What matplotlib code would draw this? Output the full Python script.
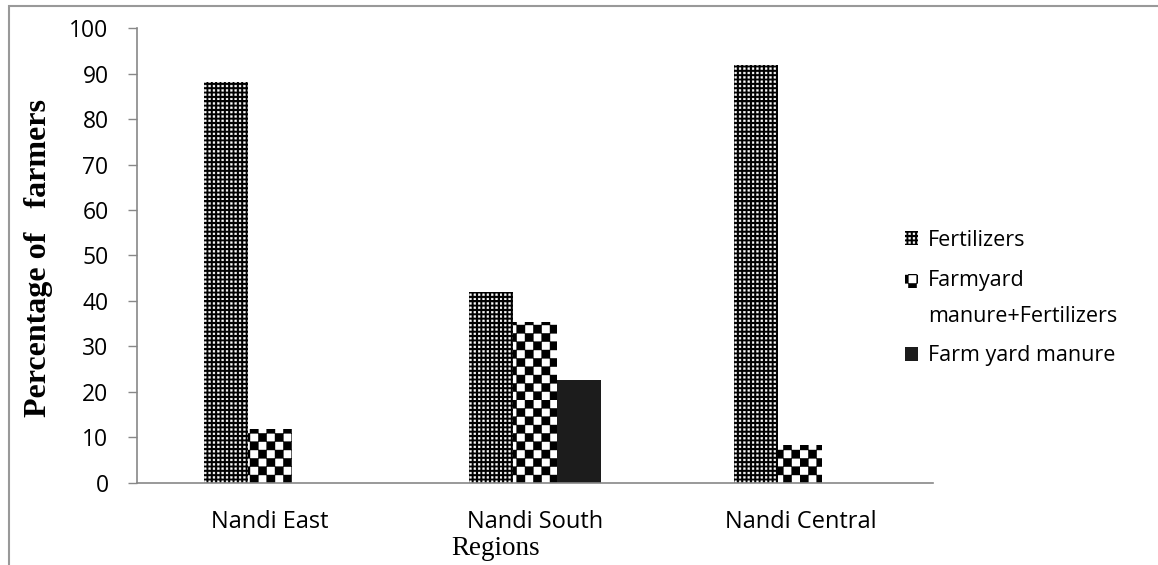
import warnings
import numpy as np
import matplotlib
matplotlib.use("Agg")
import matplotlib.pyplot as plt
import matplotlib.hatch as mhatch
from matplotlib.path import Path
from matplotlib.patches import Rectangle, Patch
from matplotlib.legend_handler import HandlerPatch

warnings.filterwarnings("ignore")

categories = ["Nandi East", "Nandi South", "Nandi Central"]
fertilizers = [88.1, 42.0, 91.9]
fym_fertilizers = [11.8, 35.4, 8.3]
farm_yard_manure = [0, 22.6, 0]
series_names = ["Fertilizers", "Farmyard\nmanure+Fertilizers", "Farm yard manure"]


# custom hatch: filled squares on a grid ('c' = checkerboard, 'd' = small dots)
class SquareGrid(mhatch.HatchPatternBase):
    def __init__(self, hatch, density):
        self.cells = []
        if hatch.count("c") > 0:
            self.n = 12
            self.cells = [(i, j) for i in range(self.n) for j in range(self.n) if (i + j) % 2 == 0]
            self.frac = 1.0
        elif hatch.count("d") > 0:
            self.n = 23
            self.cells = [(i, j) for i in range(self.n) for j in range(self.n)]
            self.frac = 0.42
        self.num_vertices = len(self.cells) * 5

    def set_vertices_and_codes(self, vertices, codes):
        step = 1.0 / self.n
        s = step * self.frac
        k = 0
        for i, j in self.cells:
            x0, y0 = i * step, j * step
            vertices[k:k + 5] = [(x0, y0), (x0 + s, y0), (x0 + s, y0 + s), (x0, y0 + s), (x0, y0)]
            codes[k:k + 5] = [Path.MOVETO, Path.LINETO, Path.LINETO, Path.LINETO, Path.CLOSEPOLY]
            k += 5


mhatch._hatch_types.append(SquareGrid)
plt.rcParams["hatch.linewidth"] = 0.3

fig = plt.figure(figsize=(11.58, 5.65), dpi=100)
ax = fig.add_axes([0.1183, 0.1457, 0.8057 - 0.1183, 0.9499 - 0.1457])

x = np.arange(len(categories))
w = 0.166
styles = [
    dict(color="black", edgecolor="white", hatch="d", linewidth=0),
    dict(color="white", edgecolor="black", hatch="c", linewidth=0),
    dict(color="#1c1c1c", edgecolor="#1c1c1c", linewidth=0),
]
for k, vals in enumerate([fertilizers, fym_fertilizers, farm_yard_manure]):
    ax.bar(x + (k - 1) * w, vals, w, **styles[k])

ax.set_xlim(-0.5, 2.5)
ax.set_ylim(0, 100)
ax.set_yticks(range(0, 101, 10))
ax.set_xticks(x)
ax.set_xticklabels(categories)

axis_col = "#888888"
for s in ["top", "right"]:
    ax.spines[s].set_visible(False)
for s in ["left", "bottom"]:
    ax.spines[s].set_color(axis_col)
    ax.spines[s].set_linewidth(1.2)
ax.tick_params(axis="y", direction="out", length=6.5, width=1, color=axis_col, pad=14, labelsize=16.5)
ax.tick_params(axis="x", length=0, pad=20, labelsize=17)
for lab in ax.get_xticklabels() + ax.get_yticklabels():
    lab.set_family("Open Sans")

fig.text(0.033, 0.544, "Percentage of   farmers", rotation=90, ha="center", va="center",
         family="Liberation Serif", fontweight="bold", fontsize=23)
fig.text(0.428, 0.03, "Regions", ha="center", va="center", family="Liberation Serif", fontsize=19.5)


# legend marker sits on the first text line
def top_line_patch(legend, orig_handle, xdescent, ydescent, width, height, fontsize):
    shift = 12.6 if "\n" in orig_handle.get_label() else 0
    return Rectangle((-xdescent, -ydescent + shift), width, height)


handles = [Patch(facecolor=st["color"], edgecolor=st["edgecolor"], hatch=st.get("hatch"), linewidth=0,
                 label=name) for st, name in zip(styles, series_names)]
leg = fig.legend(handles=handles, loc="upper left", bbox_to_anchor=(0.7815, 0.593),
                 frameon=False, borderpad=0, borderaxespad=0, handlelength=0.62, handleheight=0.62,
                 handletextpad=0.45, labelspacing=0.87, prop={"family": "Open Sans", "size": 15.5},
                 handler_map={Patch: HandlerPatch(patch_func=top_line_patch)})
for t in leg.get_texts():
    t.set_linespacing(1.94)

# outer border, only top and left visible
fig.patches.append(Rectangle((9 / 1158, -0.1), 1.2, 1.1 - 6 / 565, transform=fig.transFigure,
                             fill=False, edgecolor="#999999", linewidth=1.5))

fig.savefig("out.png", dpi=100)
